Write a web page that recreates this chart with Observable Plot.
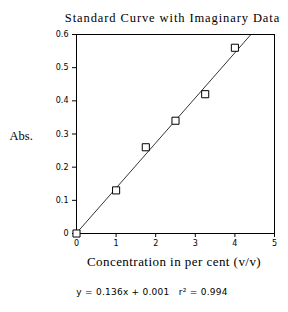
<!DOCTYPE html>
<html><head><meta charset="utf-8">
<script src="https://cdn.jsdelivr.net/npm/d3@7"></script>
<script src="https://cdn.jsdelivr.net/npm/@observablehq/plot@0.6"></script>
<style>body{margin:0;background:#fff}</style>
</head><body><div id="chart"></div>
<script>
const conc = [0, 1, 1.75, 2.5, 3.25, 4];
const absorbance = [0, 0.13, 0.26, 0.34, 0.42, 0.56];
const slope = 0.136, intercept = 0.001, r2 = 0.994;
const xTicks = [0, 1, 2, 3, 4, 5];
const yTicks = [0, 0.1, 0.2, 0.3, 0.4, 0.5, 0.6];
const titleText = "Standard Curve with Imaginary Data";
const xLabel = "Concentration in per cent (v/v)";
const yLabel = "Abs.";

const points = conc.map((c, i) => ({x: c, y: absorbance[i]}));
const xEnd = (0.6 - intercept) / slope;
const fitLine = [{x: 0, y: intercept}, {x: xEnd, y: slope * xEnd + intercept}];
const serif = "'Liberation Serif', 'Times New Roman', serif";

const chart = Plot.plot({
  width: 288, height: 312,
  marginLeft: 76, marginRight: 14, marginTop: 34, marginBottom: 79,
  style: {fontFamily: "'DejaVu Sans', sans-serif", fontSize: "8px", color: "#000", background: "#fff"},
  x: {domain: [0, 5], ticks: xTicks, tickFormat: d => String(d), label: null, tickSize: 4, tickPadding: 3},
  y: {domain: [0, 0.6], ticks: yTicks, tickFormat: d => String(+d.toFixed(1)), label: null, tickSize: 4, tickPadding: 4},
  marks: [
    Plot.frame({stroke: "#000", strokeWidth: 1}),
    Plot.line(fitLine, {x: "x", y: "y", stroke: "#000", strokeWidth: 0.8}),
    Plot.dot(points, {x: "x", y: "y", symbol: "square", r: 4, stroke: "#000", fill: "#fff", strokeWidth: 1}),
    Plot.text([titleText], {frameAnchor: "top", dy: -21, dx: -3, text: d => d, fontFamily: serif, fontSize: 12.5, className: "ttl"}),
    Plot.text([yLabel], {frameAnchor: "left", dx: -67, dy: 2, text: d => d, fontFamily: serif, fontSize: 12.5}),
    Plot.text([xLabel], {frameAnchor: "bottom", dx: -1.5, dy: 32, text: d => d, fontFamily: serif, fontSize: 13, className: "xl"}),
    Plot.text([`y = ${slope}x + ${intercept}   r² = ${r2}`], {frameAnchor: "bottom", dx: -23.5, dy: 61, text: d => d, fontSize: 9, className: "eq"})
  ]
});
d3.select(chart).selectAll(".ttl text").attr("letter-spacing", "0.9");
d3.select(chart).selectAll(".xl text").attr("letter-spacing", "0.45");
d3.select(chart).selectAll(".eq text").attr("letter-spacing", "0.25");
document.getElementById("chart").append(chart);
</script></body></html>
